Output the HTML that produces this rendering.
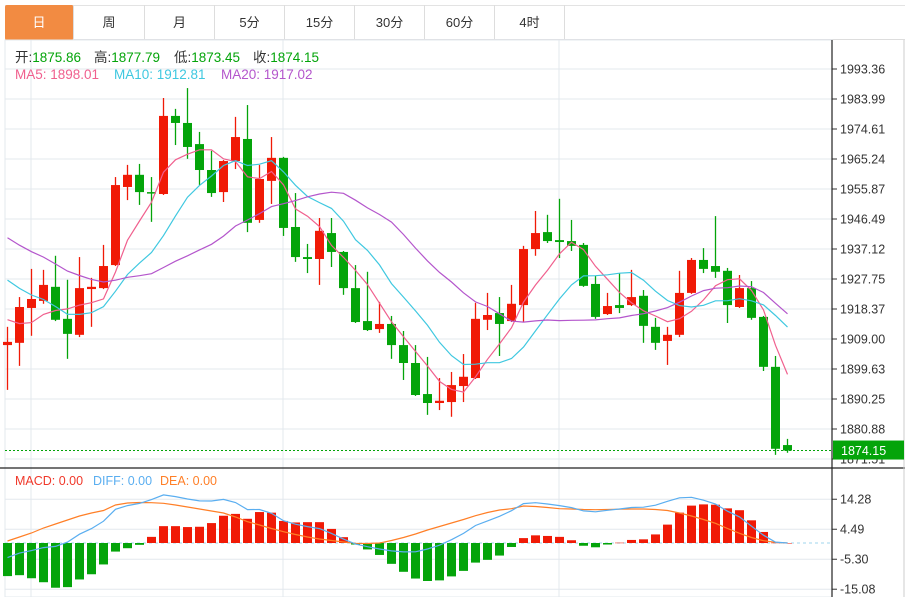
<!DOCTYPE html>
<html><head><meta charset="utf-8">
<style>
body{margin:0;background:#fff;width:919px;height:597px;overflow:hidden;font-family:"Liberation Sans","Noto Sans CJK SC",sans-serif;}
.tab{position:absolute;top:5px;height:35px;line-height:35px;text-align:center;font-size:13px;color:#333;border-right:1px solid #ddd;box-sizing:border-box;}
#chart{position:absolute;left:0;top:0;}
</style></head><body>
<div style="position:absolute;left:5px;top:5px;width:900px;height:35px;border-top:1px solid #e3e3e3;border-bottom:1px solid #ddd;box-sizing:border-box"></div>
<div class="tab" style="left:5px;width:69px;background:#f28b42;color:#fff;border-radius:2px">日</div>
<div class="tab" style="left:74px;width:71px">周</div>
<div class="tab" style="left:145px;width:70px">月</div>
<div class="tab" style="left:215px;width:70px">5分</div>
<div class="tab" style="left:285px;width:70px">15分</div>
<div class="tab" style="left:355px;width:70px">30分</div>
<div class="tab" style="left:425px;width:70px">60分</div>
<div class="tab" style="left:495px;width:70px">4时</div>
<svg id="chart" width="919" height="597" xmlns="http://www.w3.org/2000/svg" font-family="Liberation Sans, Noto Sans CJK SC, sans-serif">
<g id="grid"></g><g id="marks"></g><g id="labels"></g>
</svg>
<script>
const prevCloses=[1965,1962,1960,1958,1955,1952,1950,1948,1946,1942,1945,1942,1940,1937,1935,1925,1920,1913,1909];
const opens=[1907.1,1907.8,1918.7,1920.9,1925.3,1915.3,1910.3,1924.6,1924.9,1932.1,1956.5,1960.3,1954.9,1954.3,1978.7,1976.5,1969.9,1961.8,1954.9,1964.6,1971.5,1946.2,1958.4,1965.6,1944.0,1934.6,1934.0,1942.1,1936.2,1924.9,1914.6,1912.1,1913.7,1907.1,1901.5,1891.8,1889.0,1889.3,1894.3,1896.8,1915.0,1917.1,1914.6,1919.6,1937.1,1942.4,1939.9,1939.6,1938.4,1926.2,1916.8,1919.6,1919.6,1922.5,1912.8,1908.4,1910.3,1923.4,1933.7,1931.8,1930.3,1919.0,1924.9,1915.9,1900.3,1875.86];
const highs=[1912.8,1922.1,1930.9,1930.6,1935.0,1927.5,1934.6,1928.1,1938.4,1959.6,1963.4,1963.7,1959.6,1984.3,1980.9,1987.4,1973.7,1967.8,1964.9,1978.4,1982.1,1963.4,1972.1,1965.9,1954.6,1938.7,1946.8,1946.8,1936.5,1932.1,1930.0,1920.6,1916.2,1911.5,1907.1,1903.4,1896.8,1898.7,1904.3,1920.3,1923.4,1922.1,1925.9,1938.1,1949.0,1947.8,1952.8,1946.2,1939.0,1928.7,1923.4,1929.6,1930.6,1924.3,1915.6,1912.8,1930.3,1934.3,1937.4,1947.4,1931.2,1929.0,1927.1,1916.2,1903.7,1877.79];
const lows=[1893.1,1900.6,1910.0,1920.0,1914.6,1902.8,1909.6,1912.8,1924.6,1931.8,1952.4,1950.9,1945.6,1954.0,1969.6,1965.3,1957.1,1953.4,1951.8,1962.1,1942.4,1945.3,1951.2,1941.2,1933.1,1929.6,1925.9,1931.5,1922.8,1914.0,1911.5,1910.9,1902.8,1896.2,1891.2,1885.3,1886.8,1884.7,1889.3,1896.5,1911.8,1903.7,1914.3,1914.3,1935.0,1939.0,1934.3,1936.5,1925.3,1915.3,1916.5,1917.1,1919.3,1907.8,1905.6,1900.9,1909.6,1923.1,1929.6,1928.1,1914.0,1918.7,1915.0,1899.0,1872.8,1873.45];
const closes=[1908.1,1919.0,1921.5,1925.9,1915.0,1910.6,1924.9,1925.3,1931.8,1957.1,1960.3,1954.9,1954.6,1978.7,1976.5,1969.0,1961.8,1954.6,1964.6,1972.1,1945.3,1959.0,1965.6,1943.7,1934.6,1934.0,1942.8,1936.2,1924.9,1914.3,1911.8,1913.7,1907.1,1901.5,1891.5,1889.0,1889.7,1894.6,1897.2,1915.3,1916.5,1913.7,1920.0,1937.1,1942.1,1939.6,1939.3,1938.1,1925.6,1915.9,1919.3,1918.7,1922.1,1913.1,1907.8,1910.3,1923.4,1933.7,1930.9,1930.0,1919.6,1924.9,1915.6,1900.3,1874.7,1874.15];
const priceTicks=[1993.36,1983.99,1974.61,1965.24,1955.87,1946.49,1937.12,1927.75,1918.37,1909.00,1899.63,1890.25,1880.88,1871.51];
const macdHist=[-10.8,-10.5,-11.5,-12.8,-14.6,-14.4,-11.9,-10.2,-7.0,-2.8,-1.7,-0.6,2.0,5.5,5.5,5.2,5.3,6.5,8.9,9.5,7.9,10.1,9.9,7.2,6.7,6.8,6.8,4.6,1.9,-0.5,-2.1,-3.9,-6.8,-9.4,-11.6,-12.4,-12.2,-10.9,-9.1,-6.4,-5.5,-4.1,-1.3,1.6,2.5,2.3,2.0,0.9,-0.9,-1.4,-0.5,0.1,1.0,1.2,2.8,6.0,9.9,12.2,12.6,12.5,11.3,10.7,7.4,3.6,0.1,0];
const deaVals=[0.65,1.96,3.26,4.89,6.20,7.50,8.81,9.79,10.60,12.40,13.05,13.22,13.15,12.95,12.40,11.75,11.09,10.44,9.79,8.48,6.95,5.87,4.73,3.69,2.77,1.96,1.31,0.82,0.33,-0.10,-0.16,0,0.82,1.79,2.94,4.24,5.38,6.53,7.67,8.91,9.95,10.77,11.19,12.07,11.91,11.58,11.19,11.09,10.93,10.87,10.93,11.03,11.09,11.09,10.93,10.60,9.79,8.81,7.67,6.43,4.73,3.17,1.79,0.75,0.23,0];
const diffVals=[-4.75,-3.29,-2.49,-1.51,-1.1,0.3,2.86,4.69,7.1,11.0,12.2,12.92,14.15,15.7,15.15,14.35,13.74,13.69,14.24,13.23,10.9,10.92,9.68,7.29,6.12,5.36,4.71,3.12,1.28,-0.35,-1.21,-1.95,-2.58,-2.91,-2.86,-1.96,-0.72,1.08,3.12,5.71,7.2,8.72,10.54,12.87,13.16,12.73,12.19,11.54,10.48,10.17,10.68,11.08,11.59,11.69,12.33,13.6,14.74,14.91,13.97,12.68,10.38,8.52,5.49,2.55,0.28,0];
const macdTicks=[14.28,4.49,-5.30,-15.08];

const NS="http://www.w3.org/2000/svg";
const grid=document.getElementById('grid'),marks=document.getElementById('marks'),labels=document.getElementById('labels');
function el(tag,attrs,parent,text){const e=document.createElementNS(NS,tag);for(const k in attrs)e.setAttribute(k,attrs[k]);if(text!==undefined)e.textContent=text;parent.appendChild(e);return e;}
const pTop=priceTicks[0],pRef=priceTicks[12];
function yP(p){return 69+(pTop-p)*(360/(pTop-pRef));}
function xC(i){return 7.5+12*i;}
function yM(v){return 543-(v)*(30/(macdTicks[0]-macdTicks[1]));}
const RED='#f01a06',GREEN='#04a40a';

let r=el('rect',{x:5,y:40,width:827,height:557,fill:'none',stroke:'#e3e8ee'},grid);

[31,283,559].forEach(x=>{const l=el('line',{x1:x,x2:x,y1:40,y2:597,stroke:'#e3e8ee'},grid);
});
priceTicks.forEach(t=>{const y=yP(t);
 const l=el('line',{x1:5,x2:832,y1:y,y2:y,stroke:'#e3e8ee'},grid);
 
 el('line',{x1:832,x2:837,y1:y,y2:y,stroke:'#333'},grid);
 const tx=el('text',{x:840,y:y+4.5,'font-size':12.5,fill:'#333'},labels,t.toFixed(2));
 });
macdTicks.forEach(t=>{const y=yM(t);
 const l=el('line',{x1:5,x2:832,y1:y,y2:y,stroke:'#e3e8ee'},grid);
 
 el('line',{x1:832,x2:837,y1:y,y2:y,stroke:'#333'},grid);
 const tx=el('text',{x:840,y:y+4.5,'font-size':12.5,fill:'#333'},labels,t.toFixed(2));
 });
let ax=el('line',{x1:832,x2:832,y1:40,y2:597,stroke:'#222','stroke-width':1.2},grid);

let sep=el('line',{x1:0,x2:905,y1:468,y2:468,stroke:'#222','stroke-width':1.2},grid);

el('line',{x1:904,x2:904,y1:40,y2:597,stroke:'#ccc'},grid);

closes.forEach((c,i)=>{const o=opens[i],x=xC(i),col=c>=o?RED:GREEN;
 const g=el('g',{},marks);
 
 el('line',{x1:x,x2:x,y1:yP(highs[i]),y2:yP(lows[i]),stroke:col,'stroke-width':1.3},g);
 const t=Math.min(yP(o),yP(c)),h=Math.max(1.5,Math.abs(yP(o)-yP(c)));
 el('rect',{x:x-4.5,y:t,width:9,height:h,fill:col},g);});

const all=prevCloses.concat(closes),off=prevCloses.length;
[[5,'#f0608e','ma5-line'],[10,'#3fc8e0','ma10-line'],[20,'#b456cc','ma20-line']].forEach(([n,col,name])=>{
 let pts=[];closes.forEach((c,i)=>{let s=0;for(let k=0;k<n;k++)s+=all[off+i-k];pts.push(xC(i).toFixed(1)+','+yP(s/n).toFixed(1));});
 const pl=el('polyline',{points:pts.join(' '),fill:'none',stroke:col,'stroke-width':1.2},marks);
 });

const lp=closes[closes.length-1],ly=yP(lp);
let dl=el('line',{x1:5,x2:832,y1:ly,y2:ly,stroke:GREEN,'stroke-dasharray':'2,2'},marks);

let lb=el('rect',{x:833,y:ly-10,width:71,height:19,fill:GREEN},labels);

el('text',{x:841,y:ly+4.5,'font-size':12.5,fill:'#fff'},labels,lp.toFixed(2));

let zl=el('line',{x1:5,x2:832,y1:yM(0),y2:yM(0),stroke:'#9fd6ee','stroke-dasharray':'3,3'},marks);

macdHist.forEach((v,i)=>{const y0=yM(0),y1=yM(v);
 const b=el('rect',{x:xC(i)-4.5,y:Math.min(y0,y1),width:9,height:Math.max(0.5,Math.abs(y1-y0)),fill:v>=0?RED:GREEN},marks);
 });
[[deaVals,'#ff7f27','dea-line'],[diffVals,'#5aaef0','diff-line']].forEach(([arr,col,name])=>{
 const pts=arr.map((v,i)=>xC(i).toFixed(1)+','+yM(v).toFixed(1)).join(' ');
 const pl=el('polyline',{points:pts,fill:'none',stroke:col,'stroke-width':1.2},marks);
 });

function legend(x,y,parts,name,fs){const t=el('text',{x:x,y:y,'font-size':fs||12.5},labels);
 
 parts.forEach(([s,c])=>{el('tspan',{fill:c},t,s);});}
legend(15,62,[['开:','#333'],['1875.86',GREEN]],'open-value',13.5);
legend(94,62,[['高:','#333'],['1877.79',GREEN]],'high-value',13.5);
legend(174,62,[['低:','#333'],['1873.45',GREEN]],'low-value',13.5);
legend(253,62,[['收:','#333'],['1874.15',GREEN]],'close-value',13.5);
legend(15,79,[['MA5: 1898.01','#f0608e']],'ma5-legend',13.5);
legend(114,79,[['MA10: 1912.81','#3fc8e0']],'ma10-legend',13.5);
legend(221,79,[['MA20: 1917.02','#b456cc']],'ma20-legend',13.5);
legend(15,485,[['MACD: 0.00','#f0382a']],'macd-legend');
legend(93,485,[['DIFF: 0.00','#5aaef0']],'diff-legend');
legend(160,485,[['DEA: 0.00','#ff7f27']],'dea-legend');
</script>
</body></html>
